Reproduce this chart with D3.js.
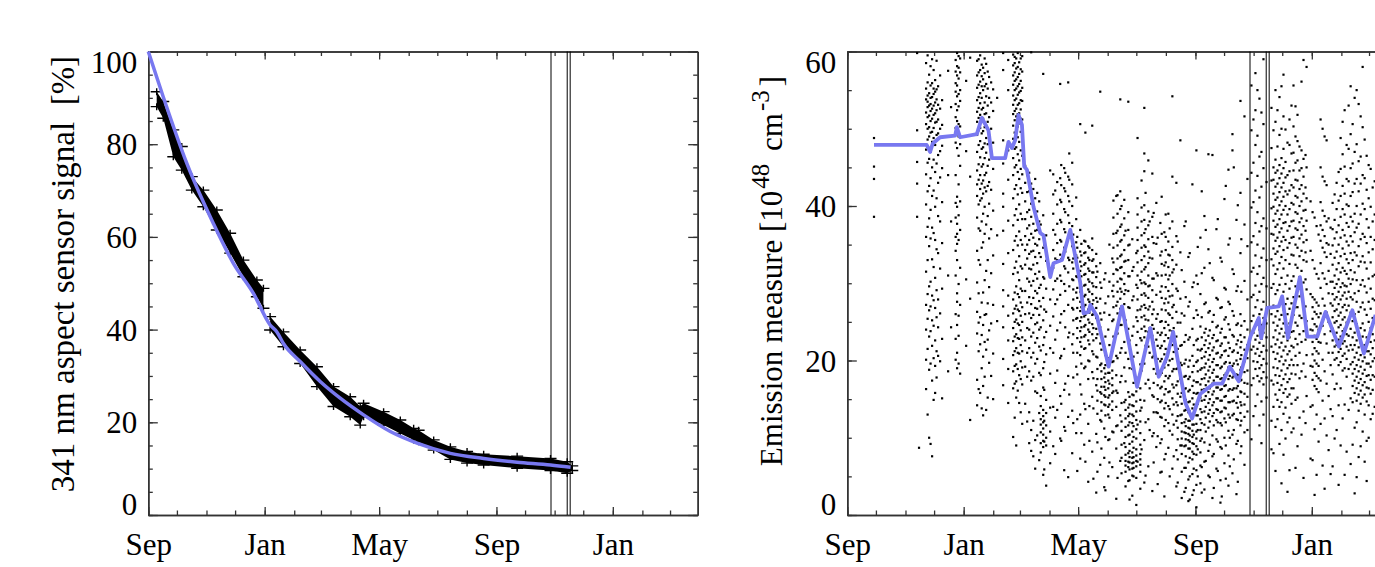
<!DOCTYPE html>
<meta charset="utf-8">
<style>
body { margin: 0; background: #fff; }
svg text { font-family: "Liberation Serif", "Times New Roman", serif; }
.axis .domain { stroke: #333; stroke-width: 1.5; }
.axis line { stroke: #333; stroke-width: 1.3; }
</style>
<svg width="1375" height="567"></svg>
<script src="https://d3js.org/d3.v7.min.js"></script>
<script>

// all "days" arrays count days from the first tick (1 Sep)
var startDate = new Date(2006, 8, 1),
    endDate = new Date(2008, 2, 30);

var xTickDates = ["2006-09-01", "2007-01-01", "2007-05-01", "2007-09-01", "2008-01-01"];
var xTickLabels = ["Sep", "Jan", "May", "Sep", "Jan"];
var leftYTicks = [0, 20, 40, 60, 80, 100];
var rightYTicks = [0, 20, 40, 60];

// vertical event lines (both panels)
var eventDays = [422.2, 439.2, 442.3];

// left panel: fitted degradation curve
var fitDays   = [0, 15.7, 40.3, 68.2, 89.2, 110.2, 127.7, 134.8, 141.7, 159.2, 180.2, 201.2, 225.7, 253.7, 281.7, 316.7, 351.6, 386.7, 421.7, 442.7];
var fitValues = [100, 90.2, 75.9, 62.9, 54.3, 47.8, 41.0, 39.5, 37.0, 33.1, 28.8, 25.2, 21.6, 18.0, 15.5, 13.3, 12.2, 11.4, 10.8, 10.3];

// left panel: measured signal, lower / upper edge of the band of "+" marks (null = data gap)
var sensorDays = [8.8, 15.7, 26.2, 35.1, 45.6, 57.7, 71.8, 85.8, 99.7, 113.8, 120.7, 124, 127.7, 141.7, 159.2, 176.8, 194.2, 211.7, 222.2, 225.7, 246.7, 264.2, 278.2, 283.4, 299.2, 316.7, 334.2, 351.6, 386.7, 421.7, 439.2, 444.5];
var sensorLow  = [88.1, 85.6, 77.3, 74.4, 70.1, 66.5, 61.5, 56.5, 51.4, 47.1, 44.6, null, 39.9, 36.3, 32.7, 27.7, 23.4, 21.2, 19.4, 21.2, 19.4, 17.6, 16.2, 15.8, 14.0, 12.0, 11.2, 10.8, 10.1, 9.6, 9.0, 9.6];
var sensorHigh = [91.3, 89.2, 83.1, 79.5, 73.0, 70.1, 65.8, 60.8, 55.0, 50.7, 48.9, null, 42.8, 39.5, 35.6, 32.0, 27.7, 25.5, 23.4, 24.1, 22.3, 20.5, 18.7, 18.3, 16.2, 14.7, 13.7, 13.1, 12.7, 12.2, 11.5, 10.6];

// right panel: smoothed emission measure
var emLineDays   = [28.0, 83.3, 86.8, 89.6, 97.3, 113.1, 114.8, 118.3, 135.8, 141.1, 148.0, 151.6, 165.5, 169.0, 172.6, 176.0, 179.5, 183.1, 185.5, 188.3, 195.2, 202.3, 205.7, 212.8, 216.2, 225.1, 233.8, 244.3, 247.7, 253.0, 254.8, 261.8, 274.0, 288.0, 303.8, 317.7, 326.5, 335.3, 341.6, 345.8, 354.5, 361.5, 370.2, 384.2, 393.0, 401.0, 410.4, 422.7, 431.4, 433.9, 440.2, 452.4, 455.9, 461.9, 474.5, 482.2, 492.7, 501.4, 515.4, 529.5, 541.6, 553.9];
var emLineValues = [47.9, 47.9, 47.0, 48.1, 48.9, 49.1, 50.2, 48.9, 49.3, 51.4, 49.8, 46.2, 46.2, 48.3, 47.5, 48.5, 51.8, 50.5, 45.1, 44.7, 39.9, 36.5, 36.2, 30.8, 32.6, 33.0, 36.9, 30.0, 26.1, 26.3, 27.2, 25.7, 19.2, 27.0, 16.6, 24.2, 17.9, 20.5, 23.7, 20.5, 14.5, 12.5, 15.7, 17.0, 17.0, 19.2, 17.3, 23.1, 25.5, 22.9, 26.8, 27.0, 28.3, 22.9, 30.8, 23.1, 23.1, 26.3, 21.8, 26.5, 20.9, 25.9];

// right panel: individual measurements, grouped by day
var emDotDays = [28.0, 73.2, 75.2, 82.6, 85.8, 88.9, 92.1, 95.2, 99.4, 105.7, 108.8, 115.1, 118.3, 124.6, 128.8, 136.1, 139.3, 142.4, 145.6, 148.7, 152.9, 157.1, 163.4, 168.7, 173.9, 177.1, 180.2, 183.4, 188.6, 192.8, 197.0, 201.2, 205.4, 208.5, 212.7, 218.0, 223.2, 227.4, 231.6, 235.8, 240.0, 244.2, 248.4, 252.6, 256.8, 261.0, 265.2, 269.4, 273.6, 277.8, 282.0, 286.2, 290.4, 294.6, 298.8, 303.0, 307.2, 311.4, 315.6, 319.8, 324.0, 328.2, 332.4, 336.6, 340.8, 345.0, 349.2, 353.4, 357.6, 361.8, 366.0, 370.2, 374.4, 378.6, 382.8, 387.0, 391.2, 395.4, 399.6, 403.8, 408.0, 412.2, 416.4, 419.5, 423.7, 427.9, 432.1, 436.3, 439.5, 444.7, 448.9, 453.1, 457.3, 461.5, 465.7, 469.9, 474.1, 478.3, 481.5, 485.7, 489.9, 494.1, 498.3, 502.5, 506.7, 510.9, 515.1, 519.3, 523.5, 527.7, 531.9, 536.1, 540.3, 544.5, 548.7, 552.9,
  84.2, 87.3, 90.5, 93.6, 97.3, 113.6, 116.7, 137.7, 140.9, 144.0, 147.2, 150.8, 175.5, 178.7, 181.8, 186.5, 190.7, 195.0, 199.1, 202.8, 206.5, 215.9, 220.1, 224.3, 228.5, 232.7, 236.9, 241.1, 245.4, 249.6, 253.8, 258.0, 262.2, 266.4, 270.6, 274.8, 279.0, 283.3, 287.5, 291.7, 295.9, 300.1, 304.3, 308.5, 312.7, 317.0, 321.2, 325.4, 329.6, 333.8, 338.0, 342.2, 346.4, 350.6, 354.8, 359.0, 363.2, 367.4, 371.6, 375.8, 380.0, 384.2, 388.4, 392.6, 396.8, 401.0, 405.2, 409.4, 413.1, 425.8, 430.0, 434.2, 446.8, 451.0, 455.2, 459.4, 463.6, 467.8, 472.0, 476.2, 480.4, 487.8, 492.0, 496.2, 500.4, 504.6, 508.8, 513.0, 517.2, 521.4, 525.6, 529.8, 534.0, 538.2, 542.4, 546.6, 550.8];
var emDotValues = [
  [48.8, 45.1, 43.5, 38.6],
  [59.8, 49.8, 45.7, 42.9, 38.6],
  [8.7],
  [58.5, 55.2, 53.8, 52.1, 50.6, 47.3, 44.1, 40.2, 36.0, 31.5, 27.2, 24.0, 20.1, 16.3],
  [57.0, 54.6, 53.0, 51.7, 50.2, 49.0, 46.1, 42.6, 38.4, 34.8, 29.6, 26.5, 23.1, 18.8, 10.0],
  [59.0, 55.9, 54.1, 52.6, 51.3, 49.6, 48.3, 45.0, 41.3, 37.2, 33.1, 28.4, 25.2, 21.9, 17.4, 7.6],
  [56.3, 54.8, 53.4, 52.0, 50.8, 47.9, 44.4, 39.9, 35.6, 30.7, 26.8, 22.6, 19.3, 15.8],
  [55.5, 53.1, 51.2, 49.4, 46.6, 43.0, 38.7, 33.9, 27.9, 24.3, 20.6],
  [53.7, 50.5, 47.8, 44.9, 40.5, 35.2, 29.3, 22.8, 15.1],
  [57.5, 44.0, 31.0, 18.6],
  [52.8, 38.0, 24.3],
  [59.8, 58.1, 56.9, 55.6, 54.2, 52.4, 51.0, 49.3, 47.5, 41.2, 39.9, 37.7, 36.4, 35.1, 33.0, 28.7, 27.6, 24.6, 21.0, 19.0],
  [59.1, 57.3, 55.0, 53.6, 50.3, 48.0, 45.2, 40.6, 36.9, 32.0, 27.2, 18.3],
  [56.2, 47.1, 30.5, 21.9],
  [59.2, 43.8, 28.0, 12.3],
  [58.8, 56.9, 55.3, 53.7, 52.2, 50.9, 49.2, 47.0, 44.6, 42.8, 41.3, 38.5, 34.2, 30.1, 26.3, 23.5, 17.5, 14.2],
  [59.5, 57.6, 56.1, 54.6, 53.3, 51.8, 50.1, 48.4, 46.3, 44.0, 42.2, 40.7, 36.8, 32.4, 25.6, 22.1, 15.8],
  [57.9, 56.4, 55.0, 52.7, 51.3, 49.7, 47.6, 45.4, 43.3, 41.6, 39.0, 35.3, 28.8, 24.6, 20.5, 16.7, 12.9],
  [58.4, 55.8, 54.2, 52.0, 50.4, 48.8, 46.9, 44.3, 41.9, 37.6, 31.6, 26.0, 21.4, 13.6],
  [56.7, 54.0, 51.5, 49.1, 46.0, 43.1, 40.3, 35.8, 29.5, 23.9, 19.7],
  [55.1, 52.3, 48.2, 44.8, 39.4, 33.6, 27.2, 20.9, 15.0],
  [54.0, 36.2, 25.1],
  [59.8, 57.6, 48.5, 45.5, 41.6, 39.9, 36.8, 32.5, 29.1, 27.0, 24.3, 20.2, 16.8],
  [58.9, 55.0, 47.2, 43.4, 38.1, 33.9, 28.4, 25.8, 22.6, 18.9, 14.5],
  [59.6, 58.2, 56.9, 55.7, 54.3, 53.1, 51.9, 50.4, 48.7, 46.2, 44.0, 41.0, 37.5, 34.3, 31.2, 27.9, 26.1, 24.2, 22.5, 20.7, 18.6, 16.4, 10.1],
  [59.1, 57.8, 56.4, 55.2, 53.9, 52.6, 51.6, 49.9, 47.6, 45.3, 42.7, 39.6, 36.1, 32.8, 29.6, 27.1, 25.3, 23.4, 21.6, 19.5, 17.3, 15.2, 9.0],
  [58.6, 57.1, 55.8, 54.7, 53.3, 52.0, 50.7, 48.3, 45.9, 43.5, 40.2, 36.7, 33.5, 30.4, 28.2, 26.4, 24.6, 22.8, 20.9, 18.1, 14.5],
  [59.4, 57.4, 55.3, 53.6, 51.2, 49.1, 46.5, 44.1, 41.7, 38.3, 35.0, 31.9, 29.0, 26.9, 25.0, 23.0, 21.2, 19.1, 16.9, 11.8],
  [44.0, 41.8, 39.2, 37.1, 35.0, 33.2, 30.6, 27.5, 24.2, 21.0, 17.9, 12.1],
  [59.9, 42.9, 40.3, 38.6, 36.4, 34.1, 31.8, 29.7, 27.3, 25.5, 23.1, 20.4, 17.4, 11.0, 8.3],
  [43.5, 41.0, 38.9, 36.8, 35.1, 33.4, 31.2, 29.0, 26.8, 24.7, 22.3, 19.6, 16.0, 9.7, 6.0],
  [40.6, 38.0, 35.7, 33.9, 31.5, 29.4, 27.7, 25.9, 24.0, 21.8, 18.4, 13.2, 7.1],
  [57.1, 38.8, 34.6, 30.8, 28.1, 25.2, 22.0, 19.0, 16.5, 13.6, 12.8, 12.0, 11.2, 10.4, 9.6, 8.8, 5.2],
  [36.2, 32.9, 29.3, 26.3, 23.7, 20.8, 14.9, 13.2, 11.6, 10.0, 9.0, 3.8],
  [44.6, 31.9, 27.9, 24.5, 21.6, 18.3, 13.9, 10.8, 6.7],
  [42.0, 36.3, 33.2, 30.3, 27.3, 22.7, 17.1, 12.6, 7.9],
  [55.8, 43.6, 40.8, 38.2, 35.6, 33.7, 31.0, 28.5, 24.9, 20.3, 15.4, 9.9],
  [44.9, 42.3, 39.6, 37.0, 34.6, 32.2, 29.9, 26.4, 21.5, 16.2, 11.4, 5.8],
  [56.0, 43.8, 41.3, 38.8, 36.0, 33.3, 31.4, 27.2, 23.0, 18.0, 12.7, 4.9],
  [45.6, 42.8, 40.0, 37.4, 34.8, 32.7, 30.5, 26.8, 22.1, 13.5, 8.0],
  [41.1, 38.3, 35.3, 33.6, 30.9, 28.8, 25.4, 19.2, 10.6],
  [50.6, 36.9, 34.1, 32.8, 31.6, 30.2, 28.9, 27.6, 26.4, 25.1, 23.8, 22.4, 20.7, 16.9, 13.0, 7.3],
  [35.5, 33.9, 32.4, 31.1, 29.7, 28.3, 27.0, 25.7, 24.4, 23.1, 21.5, 19.0, 14.4, 9.1],
  [34.8, 33.3, 31.9, 30.5, 29.2, 27.9, 26.6, 25.3, 24.0, 22.6, 20.0, 17.6, 11.8, 4.3],
  [50.4, 35.8, 34.3, 32.9, 31.4, 30.0, 28.6, 27.3, 25.9, 24.7, 23.4, 21.2, 18.5, 15.3, 8.2],
  [33.8, 32.2, 30.8, 29.5, 28.1, 26.8, 25.5, 24.1, 22.9, 20.5, 16.8, 10.5, 2.9],
  [54.8, 32.6, 30.1, 28.0, 26.1, 24.3, 22.2, 19.4, 15.9, 12.3, 6.5],
  [30.5, 26.2, 21.7, 19.0, 17.8, 16.6, 15.5, 14.3, 11.2, 7.4, 3.6],
  [28.3, 24.0, 20.3, 19.3, 18.4, 17.4, 16.4, 15.2, 14.0, 13.0, 9.7, 5.0],
  [33.2, 29.0, 25.1, 21.3, 19.8, 18.7, 17.7, 16.8, 15.8, 14.7, 13.6, 10.8, 6.2],
  [41.3, 36.5, 31.8, 27.1, 23.5, 20.6, 18.1, 16.1, 14.0, 11.5, 8.6, 2.1],
  [53.8, 41.9, 39.6, 37.3, 35.4, 33.5, 32.0, 30.6, 29.3, 28.0, 26.7, 24.6, 21.0, 17.2, 12.9, 7.0],
  [40.8, 38.4, 36.2, 34.3, 32.8, 31.3, 29.9, 28.6, 27.3, 25.5, 22.4, 19.1, 14.6, 9.3],
  [53.5, 39.2, 36.9, 34.9, 33.0, 30.9, 29.0, 26.9, 24.1, 20.2, 15.9, 13.9, 12.8, 11.6, 10.3, 8.0, 6.9, 6.2, 4.4],
  [35.7, 31.6, 27.8, 23.2, 18.9, 15.6, 14.2, 13.0, 11.9, 10.8, 9.5, 8.1, 7.4, 6.7, 6.0, 5.1, 2.5],
  [33.9, 29.8, 25.6, 22.0, 17.8, 16.0, 14.7, 13.4, 12.3, 11.1, 9.9, 8.5, 7.7, 7.0, 6.3, 4.8, 1.3],
  [30.4, 26.6, 22.9, 19.5, 16.4, 14.9, 13.5, 12.1, 10.6, 9.1, 7.9, 7.2, 6.5, 5.6, 3.4],
  [52.7, 46.8, 44.5, 40.1, 38.2, 36.5, 34.9, 33.5, 31.8, 30.1, 28.7, 27.2, 25.8, 24.4, 23.0, 19.6, 14.8, 9.7, 4.2],
  [45.9, 39.3, 37.5, 35.7, 34.1, 32.6, 31.0, 29.6, 28.1, 26.6, 25.2, 23.7, 21.8, 17.5, 12.4, 6.3],
  [44.2, 38.6, 36.0, 33.2, 30.6, 29.1, 27.6, 26.0, 24.6, 23.2, 20.4, 15.5, 10.2, 3.1],
  [40.4, 35.1, 31.3, 28.5, 25.4, 22.7, 18.3, 13.3, 8.8],
  [37.8, 33.6, 28.9, 25.0, 23.3, 21.6, 19.9, 18.2, 16.4, 14.6, 12.7, 9.3, 5.5],
  [36.6, 32.3, 27.4, 24.2, 22.5, 20.8, 19.1, 17.3, 15.6, 13.8, 11.5, 7.2, 2.4],
  [39.0, 35.4, 33.7, 32.1, 30.5, 29.0, 27.5, 26.1, 24.6, 22.9, 21.1, 19.4, 17.7, 15.9, 14.1, 11.9, 8.7],
  [54.2, 43.8, 38.0, 34.7, 33.0, 31.4, 29.9, 28.4, 26.9, 25.5, 23.8, 22.0, 20.2, 18.6, 16.9, 15.1, 13.0, 10.4, 6.0],
  [43.0, 36.1, 32.4, 29.3, 26.3, 23.1, 20.9, 18.9, 16.8, 14.6, 12.2, 8.4, 3.7],
  [48.5, 34.0, 28.0, 24.9, 21.9, 19.7, 17.6, 15.3, 12.9, 9.0],
  [37.4, 30.2, 25.8, 22.4, 19.6, 17.9, 16.3, 14.9, 13.5, 12.0, 10.7, 8.9, 6.1, 3.0],
  [33.4, 27.0, 22.7, 19.2, 17.6, 16.0, 14.6, 13.3, 12.2, 11.3, 10.5, 9.7, 8.6, 6.8, 4.6, 1.8],
  [42.8, 29.5, 24.1, 20.6, 18.5, 16.7, 15.1, 13.8, 12.6, 11.7, 10.9, 10.1, 9.3, 8.2, 7.2, 5.3, 2.6],
  [47.2, 31.0, 26.5, 22.6, 19.8, 17.2, 15.7, 14.2, 12.9, 11.8, 10.8, 9.9, 8.9, 7.8, 5.8, 3.9, 1.0],
  [35.9, 28.6, 24.4, 21.3, 18.8, 16.9, 15.2, 13.7, 12.4, 11.0, 9.6, 8.1, 6.4, 4.1],
  [38.7, 32.0, 27.3, 23.6, 22.0, 20.5, 19.1, 17.7, 16.3, 14.9, 13.4, 11.7, 9.4, 6.9, 3.3],
  [46.7, 34.4, 26.2, 23.2, 21.6, 20.1, 18.7, 17.3, 15.9, 14.5, 13.1, 11.3, 8.3, 5.1],
  [46.6, 30.7, 25.0, 22.9, 21.3, 19.8, 18.4, 17.0, 15.6, 14.2, 12.8, 10.3, 7.6, 2.2],
  [37.0, 28.1, 24.3, 22.5, 20.9, 19.4, 17.9, 16.5, 15.1, 13.7, 12.3, 9.8, 6.0],
  [33.3, 26.8, 23.6, 21.9, 20.4, 19.0, 17.6, 16.2, 14.8, 13.3, 11.9, 8.8, 4.5, 1.6],
  [40.9, 29.4, 25.3, 23.0, 21.2, 19.6, 18.1, 16.7, 15.3, 13.9, 12.5, 10.0, 6.7],
  [44.7, 35.0, 27.6, 24.7, 22.3, 20.6, 19.1, 17.6, 16.1, 14.6, 13.0, 10.9, 7.7, 3.8],
  [49.3, 47.2, 31.8, 26.4, 23.3, 21.1, 19.3, 17.8, 16.2, 14.7, 12.9, 10.4, 5.4],
  [38.2, 29.0, 24.6, 22.1, 20.0, 18.2, 16.4, 14.5, 12.4, 9.2, 2.7],
  [53.6, 41.7, 33.9, 26.0, 23.3, 21.7, 20.2, 18.8, 17.4, 16.0, 14.6, 13.2, 11.6, 8.0],
  [51.6, 37.6, 30.3, 25.1, 23.0, 21.4, 19.9, 18.5, 17.1, 15.7, 14.3, 12.7, 10.7, 6.5],
  [43.5, 34.8, 27.9, 24.0, 22.0, 20.3, 18.7, 17.0, 15.3, 13.4, 11.0],
  [55.6, 49.8, 44.3, 39.8, 35.3, 31.5, 28.2, 25.1, 21.4, 16.8, 9.8],
  [57.2, 52.4, 47.9, 42.0, 37.8, 33.6, 29.7, 26.9, 24.5, 22.7, 20.9, 18.9, 14.1],
  [53.9, 46.4, 41.1, 36.7, 32.2, 28.9, 26.0, 24.0, 22.3, 20.6, 19.0, 17.3, 11.6],
  [59.0, 50.6, 44.9, 38.4, 34.5, 30.7, 27.6, 25.5, 23.6, 21.9, 20.2, 18.5, 16.9, 13.0],
  [43.1, 37.1, 33.0, 29.6, 26.6, 24.8, 23.0, 21.3, 19.6, 17.8, 15.2],
  [52.7, 47.5, 43.3, 39.7, 36.4, 33.1, 29.4, 26.0, 21.8, 17.4, 12.2, 8.5],
  [55.0, 50.9, 46.0, 44.3, 42.5, 40.8, 39.0, 37.3, 35.5, 33.8, 31.2, 28.6, 25.7, 23.9, 22.1, 20.2, 18.1, 15.6, 11.4, 5.7],
  [54.1, 49.2, 45.3, 43.6, 41.8, 40.1, 38.3, 36.6, 34.8, 32.6, 29.8, 27.2, 25.3, 23.5, 21.7, 19.9, 18.0, 16.2, 14.0, 9.2],
  [57.0, 51.6, 47.4, 44.9, 43.0, 41.2, 39.5, 37.8, 36.0, 34.3, 31.9, 28.9, 26.6, 24.8, 23.1, 21.3, 19.5, 17.6, 15.8, 13.1, 7.8],
  [48.2, 44.0, 41.5, 38.9, 36.8, 34.6, 31.0, 28.0, 26.0, 24.3, 22.6, 20.8, 19.0, 17.2, 15.3, 12.0, 3.0],
  [53.0, 46.8, 42.7, 40.4, 38.0, 35.9, 33.7, 30.3, 27.4, 25.5, 23.7, 21.9, 20.1, 18.3, 16.4, 14.4, 10.7],
  [52.9, 49.0, 45.6, 43.4, 41.3, 39.2, 37.1, 35.0, 32.4, 29.6, 26.9, 24.9, 22.8, 20.6, 18.2, 14.9, 6.1],
  [47.7, 44.6, 42.2, 40.0, 37.9, 35.8, 33.5, 30.8, 28.3, 25.8, 23.4, 21.0, 17.7, 12.6],
  [58.9, 46.1, 43.8, 41.6, 39.4, 37.4, 35.3, 33.0, 30.1, 27.0, 23.8, 19.6, 13.4, 4.8],
  [58.0, 45.0, 41.0, 38.1, 35.6, 32.8, 29.2, 25.1, 20.7, 15.4],
  [40.6, 34.2, 28.6, 24.0, 19.3, 14.0, 7.3],
  [38.5, 31.9, 27.9, 26.3, 24.7, 23.2, 21.6, 20.0, 18.4, 16.7, 11.1, 2.6],
  [36.3, 30.6, 27.1, 25.6, 24.0, 22.4, 20.9, 19.3, 17.7, 15.9, 9.5],
  [50.0, 43.8, 39.4, 36.9, 34.6, 31.3, 28.0, 24.5, 20.1, 14.8, 6.4],
  [48.5, 42.7, 38.0, 35.2, 33.4, 29.9, 26.2, 22.2, 17.0, 10.3],
  [37.2, 33.8, 30.2, 27.4, 23.8, 19.4, 13.7, 5.3],
  [41.5, 38.2, 35.8, 33.3, 31.0, 29.4, 27.9, 26.4, 24.9, 23.3, 21.8, 20.1, 16.3, 9.9],
  [44.4, 40.7, 37.5, 35.0, 32.6, 30.5, 28.9, 27.3, 25.8, 24.3, 22.7, 21.1, 19.4, 14.2, 3.9],
  [50.9, 46.7, 42.6, 39.6, 36.9, 34.5, 32.0, 30.0, 28.4, 26.9, 25.3, 23.8, 22.2, 20.6, 18.7, 12.5],
  [47.9, 43.5, 40.2, 37.8, 35.4, 33.1, 31.2, 29.6, 28.0, 26.5, 24.9, 23.4, 21.8, 20.2, 17.9, 8.2],
  [55.5, 49.3, 44.9, 41.3, 38.6, 36.1, 33.9, 31.7, 29.9, 28.2, 26.2, 24.1, 22.0, 19.5, 15.1, 6.6],
  [54.0, 47.0, 42.9, 39.0, 36.6, 34.0, 31.4, 28.7, 26.0, 23.6, 22.0, 20.4, 18.9, 17.4, 15.8, 11.3, 2.8],
  [53.2, 45.8, 41.9, 37.7, 34.8, 32.2, 29.0, 26.3, 23.3, 21.7, 20.1, 18.6, 17.1, 15.6, 13.5, 7.5],
  [58.0, 50.2, 44.0, 40.3, 36.4, 33.5, 30.4, 27.5, 24.8, 23.1, 21.5, 19.9, 18.3, 16.8, 15.2, 10.8],
  [46.5, 42.1, 38.3, 35.2, 31.9, 28.8, 25.9, 23.0, 21.2, 19.6, 18.0, 16.5, 14.7, 9.6, 4.4],
  [44.8, 39.9, 36.0, 32.7, 29.3, 26.7, 24.2, 22.4, 20.8, 19.2, 17.5, 15.7, 12.4],
  [43.2, 38.9, 35.6, 31.1, 27.8, 25.2, 22.6, 20.3, 17.9, 14.0],
  [59.5, 56.0, 54.3, 53.5, 52.8, 51.5, 50.0, 48.6, 45.6, 41.9, 37.3, 33.0, 28.6, 25.4, 21.5, 13.0],
  [58.1, 55.6, 54.0, 53.2, 52.3, 51.0, 49.5, 47.0, 43.6, 39.5, 35.8, 30.2, 27.0, 23.8, 19.6, 9.2],
  [57.6, 55.2, 54.5, 53.0, 51.8, 50.1, 48.8, 46.0, 42.0, 36.5, 32.1, 27.8, 24.5, 20.3, 14.9],
  [58.8, 55.1, 53.8, 52.4, 50.9, 49.2, 45.5, 41.0, 34.4, 29.1, 25.6, 21.2, 17.8],
  [56.9, 52.6, 50.0, 47.1, 43.7, 38.0, 31.9, 26.1, 19.9],
  [58.9, 57.4, 55.9, 54.8, 53.2, 51.5, 50.1, 48.2, 44.0, 40.4, 38.5, 36.0, 34.2, 31.0, 26.0, 22.8, 20.1],
  [59.4, 57.9, 56.5, 54.5, 52.9, 50.6, 49.0, 46.5, 42.8, 38.8, 35.6, 29.9, 25.8, 23.2, 19.6],
  [59.0, 57.3, 55.7, 54.1, 52.7, 51.4, 49.8, 47.9, 45.4, 43.4, 40.2, 37.1, 33.0, 28.7, 24.9, 21.2, 16.3],
  [58.3, 56.8, 55.5, 54.0, 52.5, 51.0, 49.4, 47.4, 45.1, 42.9, 41.0, 38.0, 34.6, 27.5, 23.3, 19.0, 13.8],
  [59.1, 57.2, 55.5, 53.4, 51.9, 50.2, 48.1, 46.2, 44.0, 42.4, 39.9, 36.4, 30.4, 25.9, 22.4, 17.9],
  [57.4, 55.2, 53.0, 50.9, 48.0, 45.2, 42.6, 38.7, 33.0, 27.4, 22.7, 15.2],
  [56.0, 53.4, 50.0, 47.0, 42.1, 37.0, 31.3, 24.8, 18.0],
  [59.3, 58.5, 57.3, 56.2, 55.0, 53.7, 52.3, 51.1, 49.5, 47.4, 45.0, 42.2, 38.8, 35.5, 32.0, 28.8, 26.7, 25.0, 23.1, 21.2, 19.3, 17.0, 12.6],
  [59.8, 58.0, 56.7, 55.5, 54.4, 53.1, 51.9, 50.3, 48.9, 46.7, 44.4, 41.5, 38.2, 34.9, 31.4, 28.6, 26.6, 24.8, 22.9, 21.0, 18.9, 16.1],
  [59.1, 57.7, 56.2, 54.9, 53.7, 52.5, 51.3, 49.6, 47.2, 44.8, 42.3, 39.0, 35.6, 32.2, 29.3, 27.5, 25.8, 23.9, 22.0, 19.9, 17.6, 13.3],
  [45.2, 43.0, 40.6, 38.3, 36.1, 34.3, 32.4, 29.0, 26.0, 22.6, 19.2, 14.4],
  [44.3, 41.9, 39.5, 37.5, 35.6, 33.8, 31.9, 30.2, 28.2, 26.1, 24.0, 21.6, 18.6, 13.3, 9.3],
  [42.2, 39.8, 37.7, 35.9, 34.2, 32.4, 30.3, 28.1, 25.9, 23.6, 21.0, 17.9, 12.2, 7.6],
  [41.7, 39.3, 36.9, 34.9, 32.6, 30.6, 28.7, 26.7, 24.9, 22.9, 20.2, 15.8, 10.3],
  [37.6, 33.4, 29.8, 27.0, 24.3, 21.3, 18.1, 15.4, 14.1, 12.4, 11.7, 10.7, 9.3, 8.1],
  [35.0, 30.6, 26.6, 23.0, 19.8, 16.2, 12.2, 9.5, 5.9],
  [44.1, 41.5, 39.0, 36.9, 34.3, 32.0, 29.2, 25.7, 21.0, 14.0, 8.9],
  [43.1, 40.2, 37.7, 35.2, 33.0, 30.6, 27.9, 23.9, 18.7, 13.6],
  [45.3, 42.7, 40.5, 37.9, 35.4, 33.1, 30.3, 26.0, 20.6, 14.4, 9.6],
  [44.3, 41.9, 39.2, 36.6, 34.1, 31.9, 29.0, 24.3, 17.0, 10.9],
  [46.8, 43.4, 40.6, 37.8, 35.9, 33.0, 29.6, 23.6, 15.6],
  [36.3, 34.7, 33.2, 31.9, 30.4, 29.2, 27.9, 26.6, 25.2, 23.4, 21.0, 17.8, 11.9],
  [36.0, 34.6, 33.3, 32.0, 30.8, 29.4, 28.1, 26.8, 25.5, 24.2, 22.9, 21.0, 18.2, 12.4, 5.7],
  [35.1, 33.6, 32.2, 30.9, 29.5, 28.2, 26.9, 25.6, 24.3, 23.0, 21.8, 19.6, 15.6, 10.6],
  [49.5, 35.4, 34.0, 32.6, 31.2, 29.8, 28.5, 27.2, 25.9, 24.6, 23.3, 21.6, 19.2, 13.7, 6.9],
  [34.6, 33.0, 31.6, 30.2, 28.9, 27.6, 26.2, 24.9, 23.7, 22.1, 19.9, 14.1, 9.6],
  [33.1, 31.4, 29.6, 27.8, 26.0, 24.2, 22.6, 20.8, 17.7, 13.8, 4.7],
  [31.5, 27.6, 23.4, 20.4, 18.9, 17.6, 16.1, 14.8, 13.1, 9.4, 5.6],
  [29.4, 25.3, 21.4, 19.6, 18.6, 17.6, 16.6, 15.7, 14.6, 13.5, 12.1, 8.6],
  [31.3, 27.4, 23.1, 20.7, 19.4, 18.3, 17.2, 16.2, 15.3, 14.2, 12.9, 10.1, 3.2],
  [35.0, 30.2, 25.9, 22.0, 19.9, 18.4, 17.0, 15.5, 14.3, 12.6, 9.8, 6.8],
  [40.7, 38.5, 36.4, 34.6, 32.7, 31.2, 29.7, 28.3, 26.9, 25.3, 23.1, 19.9, 16.0, 10.7],
  [41.4, 39.0, 36.8, 34.9, 33.2, 31.7, 30.2, 28.9, 27.6, 26.1, 23.5, 20.3, 15.8, 11.6, 4.8],
  [40.0, 37.6, 35.6, 33.7, 32.1, 30.5, 28.9, 27.0, 24.6, 21.6, 18.0, 14.5, 12.1, 10.9, 9.1, 7.4, 5.4],
  [36.8, 32.9, 29.1, 25.2, 21.0, 17.3, 14.9, 13.6, 12.5, 11.4, 10.1, 8.8, 7.8, 7.0, 6.4, 5.6, 3.7],
  [35.0, 30.9, 26.8, 22.6, 19.0, 15.3, 14.3, 13.1, 12.0, 10.4, 9.2, 8.3, 7.5, 6.8, 5.9, 4.5, 2.0],
  [32.1, 28.3, 24.4, 20.5, 17.1, 15.5, 14.1, 12.8, 11.5, 10.1, 8.7, 7.5, 6.8, 6.1, 5.0],
  [48.8, 41.0, 38.9, 37.2, 35.6, 34.2, 32.7, 31.0, 29.4, 27.9, 26.5, 25.1, 23.7, 21.0, 16.6, 11.7, 6.9],
  [43.3, 39.8, 38.0, 36.2, 34.6, 33.0, 31.5, 30.0, 28.5, 27.0, 25.6, 24.1, 22.6, 18.7, 13.9, 8.5],
  [41.7, 37.0, 34.7, 32.1, 29.9, 28.4, 26.8, 25.3, 23.8, 21.9, 17.0, 12.0, 5.1],
  [38.0, 33.3, 29.7, 27.0, 24.2, 21.0, 16.4, 11.0],
  [39.1, 35.2, 30.6, 26.6, 24.1, 22.3, 20.6, 18.9, 17.1, 15.3, 13.3, 10.6, 6.8],
  [35.9, 31.0, 26.0, 23.6, 21.9, 20.2, 18.5, 16.8, 15.0, 13.2, 10.2, 4.0],
  [41.2, 36.4, 34.1, 32.5, 31.0, 29.6, 28.1, 26.6, 25.1, 23.6, 21.9, 20.2, 18.4, 16.6, 14.8, 12.6, 9.8, 5.6],
  [38.9, 36.0, 34.3, 32.7, 31.1, 29.5, 28.0, 26.5, 25.0, 23.3, 21.5, 19.8, 18.0, 16.3, 14.5, 12.3, 7.9],
  [37.1, 33.6, 31.0, 28.3, 25.9, 23.9, 22.0, 20.0, 18.0, 16.0, 13.7, 10.9, 5.0],
  [31.8, 27.2, 24.2, 21.1, 18.9, 16.5, 14.3, 11.7, 7.6],
  [35.4, 29.0, 24.9, 21.5, 19.0, 17.3, 15.7, 14.2, 12.8, 11.3, 9.8, 7.2, 4.2],
  [31.7, 26.1, 22.0, 19.4, 17.5, 15.8, 14.4, 13.0, 11.9, 10.8, 9.9, 9.0, 7.9, 5.6, 2.2],
  [38.0, 28.2, 23.3, 20.1, 18.0, 16.4, 14.9, 13.6, 12.4, 11.5, 10.6, 9.8, 9.0, 7.6, 6.1, 3.5],
  [33.9, 27.6, 23.0, 20.0, 17.9, 16.2, 14.7, 13.4, 12.2, 11.2, 10.3, 9.5, 8.6, 7.4, 5.0, 2.0],
  [30.1, 25.5, 22.0, 19.3, 17.4, 15.8, 14.3, 13.0, 11.7, 10.4, 9.2, 7.9, 6.0, 3.2],
  [34.7, 29.9, 25.9, 22.8, 21.4, 20.0, 18.6, 17.2, 15.8, 14.4, 12.9, 11.0, 8.5, 5.0],
  [41.9, 31.3, 25.6, 23.0, 21.5, 20.3, 19.0, 17.6, 16.2, 14.8, 13.3, 11.9, 9.9, 6.2, 2.9],
  [36.9, 27.5, 24.1, 22.6, 21.1, 19.6, 18.2, 16.8, 15.4, 14.0, 12.6, 10.8, 7.0],
  [32.6, 26.4, 23.9, 22.2, 20.7, 19.2, 17.8, 16.4, 15.0, 13.6, 12.1, 9.1, 4.9],
  [30.4, 25.9, 23.3, 21.7, 20.2, 18.8, 17.4, 16.0, 14.6, 13.2, 11.6, 7.9, 3.5],
  [38.3, 27.9, 24.5, 22.6, 21.0, 19.4, 17.9, 16.5, 15.1, 13.6, 12.0, 9.5, 5.7],
  [32.8, 26.9, 24.1, 22.2, 20.7, 19.2, 17.7, 16.3, 14.8, 13.4, 11.6, 8.6, 2.4],
  [42.6, 29.2, 25.6, 23.0, 21.3, 19.8, 18.3, 16.8, 15.4, 13.8, 12.0, 9.0, 4.7],
  [35.8, 27.3, 24.0, 21.6, 19.7, 18.0, 16.3, 14.6, 12.6, 10.0, 6.3],
  [45.0, 31.2, 25.8, 23.1, 21.3, 19.6, 18.0, 16.4, 14.8, 13.1, 11.0, 7.2],
  [40.1, 29.6, 24.8, 22.6, 21.0, 19.5, 18.1, 16.7, 15.3, 13.9, 12.3, 9.6, 4.3],
  [35.7, 28.9, 24.5, 22.4, 20.7, 19.1, 17.5, 15.9, 14.2, 12.2, 8.9],
  [51.2, 45.6, 40.5, 36.1, 32.0, 28.5, 25.8, 23.6, 21.8, 19.9, 17.7, 12.8],
  [55.0, 49.1, 43.9, 39.2, 35.0, 31.2, 27.8, 25.2, 23.2, 21.5, 19.8, 18.0, 15.6],
  [52.1, 47.0, 42.5, 37.4, 33.3, 29.9, 26.6, 24.6, 22.8, 21.1, 19.4, 17.7, 14.7, 9.3],
  [49.8, 45.0, 43.4, 41.6, 39.9, 38.1, 36.3, 34.5, 32.3, 29.9, 27.1, 24.9, 23.0, 21.1, 19.1, 16.9, 14.0, 8.0],
  [52.4, 47.7, 44.6, 42.9, 41.1, 39.4, 37.6, 35.9, 34.1, 31.8, 29.1, 26.4, 24.5, 22.7, 20.9, 19.0, 17.1, 14.9, 12.4],
  [55.5, 50.0, 46.2, 44.2, 42.4, 40.6, 38.9, 37.1, 35.4, 33.4, 30.7, 28.0, 25.9, 24.1, 22.3, 20.5, 18.7, 16.8, 14.6, 11.0, 4.1],
  [49.9, 45.7, 43.7, 41.9, 40.0, 37.9, 35.6, 33.0, 29.9, 27.3, 25.3, 23.6, 21.8, 20.0, 18.2, 16.3, 13.9, 9.9],
  [51.2, 47.9, 44.5, 42.0, 39.6, 37.4, 35.2, 32.5, 29.3, 26.7, 24.8, 23.0, 21.2, 19.4, 17.6, 15.6, 12.6, 5.8],
  [55.6, 50.3, 46.9, 44.6, 42.4, 40.2, 38.1, 36.0, 33.6, 30.9, 28.2, 25.9, 23.8, 21.7, 19.4, 16.4, 11.2],
  [51.8, 48.4, 45.9, 43.3, 41.1, 39.0, 36.9, 34.6, 32.0, 29.3, 26.9, 24.5, 22.1, 19.4, 15.2, 8.9],
  [56.1, 47.2, 44.9, 42.7, 40.6, 38.4, 36.3, 34.2, 31.6, 28.6, 25.5, 22.4, 18.6, 10.4],
  [46.6, 42.4, 39.5, 36.8, 34.0, 30.5, 27.0, 22.7, 17.9, 11.9],
  [39.2, 33.0, 28.2, 26.9, 25.4, 23.9, 22.4, 20.8, 19.2, 17.5, 14.2, 7.1],
  [37.4, 31.2, 27.5, 26.0, 24.4, 22.8, 21.2, 19.6, 18.0, 16.3, 13.0, 5.2],
  [51.2, 45.0, 40.5, 37.5, 35.5, 32.6, 29.4, 26.1, 22.3, 17.4, 11.8],
  [49.0, 43.2, 38.7, 36.1, 34.0, 30.6, 27.1, 23.4, 18.6, 12.5, 3.4],
  [38.4, 35.0, 31.6, 28.7, 25.0, 21.0, 15.4, 8.4],
  [40.4, 37.0, 34.9, 32.4, 30.2, 28.6, 27.1, 25.6, 24.1, 22.6, 21.0, 18.2, 12.8, 6.3],
  [43.0, 39.6, 36.6, 34.1, 31.8, 29.9, 28.2, 26.6, 25.1, 23.6, 22.0, 20.3, 17.0, 11.0],
  [48.8, 44.8, 41.3, 38.6, 35.9, 33.5, 31.4, 29.5, 27.9, 26.2, 24.6, 23.1, 21.5, 19.8, 16.4, 9.0],
  [52.4, 45.1, 41.6, 38.9, 36.2, 33.8, 31.6, 29.7, 28.8, 27.2, 25.6, 24.1, 22.5, 20.9, 19.0, 14.3, 5.2],
  [53.0, 47.4, 43.2, 40.0, 37.3, 34.9, 32.6, 30.6, 28.9, 27.1, 25.2, 23.2, 21.3, 18.9, 13.6],
  [50.6, 45.5, 41.8, 38.0, 35.4, 33.0, 30.5, 27.9, 25.1, 23.0, 21.4, 19.8, 18.3, 16.7, 14.6, 9.1],
  [55.0, 48.0, 43.5, 40.0, 37.2, 33.6, 30.4, 27.6, 24.7, 22.6, 21.0, 19.4, 17.9, 16.4, 14.8, 12.0, 4.9],
  [51.6, 46.4, 42.9, 38.9, 35.7, 32.8, 29.8, 26.9, 24.2, 22.3, 20.7, 19.2, 17.6, 16.1, 14.4, 8.9],
  [48.6, 43.6, 39.6, 36.0, 32.7, 29.6, 26.6, 23.9, 22.0, 20.4, 18.8, 17.2, 15.6, 13.0, 6.9],
  [45.3, 41.0, 37.2, 34.0, 30.6, 27.6, 25.0, 22.9, 21.2, 19.6, 18.1, 16.4, 14.2, 10.0],
  [42.4, 38.0, 34.4, 30.9, 28.0, 25.5, 23.4, 21.6, 19.9, 18.1, 16.2, 13.1]
];

var svg = d3.select("svg"),
    plotTop = 51.5,
    plotBottom = 515,
    panelWidth = 549.4,
    blue = "#7878f0",
    fontSize = 31;

function dayToDate(d) { return new Date(startDate.getTime() + d * 864e5); }

// draws the framed box with inward ticks on all four sides, returns the scales
function drawFrame(left, yMax, yTicks) {
  var x = d3.scaleTime().domain([startDate, endDate]).range([left, left + panelWidth]),
      y = d3.scaleLinear().domain([0, yMax]).range([plotBottom, plotTop]);

  var months = d3.timeMonth.range(startDate, endDate),
      majors = xTickDates.map(function(s) { return d3.timeParse("%Y-%m-%d")(s); }),
      yMinor = d3.range(0, yMax + 0.1, 5);

  function styleAxis(sel) {
    sel.attr("class", "axis").attr("font-size", fontSize)
       .attr("font-family", '"Liberation Serif", "Times New Roman", serif');
    sel.selectAll("text").attr("fill", "#000");
  }

  svg.append("g").attr("transform", "translate(0," + plotBottom + ")")
    .call(d3.axisBottom(x).tickValues(months).tickSize(-4.5).tickSizeOuter(0).tickFormat(""))
    .call(styleAxis);
  svg.append("g").attr("transform", "translate(0," + plotBottom + ")")
    .call(d3.axisBottom(x).tickValues(majors).tickSize(-8).tickSizeOuter(0).tickPadding(18)
      .tickFormat(function(d, i) { return xTickLabels[i]; }))
    .call(styleAxis);
  svg.append("g").attr("transform", "translate(0," + plotTop + ")")
    .call(d3.axisTop(x).tickValues(months).tickSize(-4.5).tickSizeOuter(0).tickFormat(""))
    .call(styleAxis);
  svg.append("g").attr("transform", "translate(0," + plotTop + ")")
    .call(d3.axisTop(x).tickValues(majors).tickSize(-8).tickSizeOuter(0).tickFormat(""))
    .call(styleAxis);

  svg.append("g").attr("transform", "translate(" + left + ",0)")
    .call(d3.axisLeft(y).tickValues(yMinor).tickSize(-4.5).tickSizeOuter(0).tickFormat(""))
    .call(styleAxis);
  var yAxis = svg.append("g").attr("transform", "translate(" + left + ",0)")
    .call(d3.axisLeft(y).tickValues(yTicks).tickSize(-9.5).tickSizeOuter(0).tickPadding(11))
    .call(styleAxis);
  // IDL style: end labels are kept inside the axis range
  yAxis.selectAll(".tick text").attr("dy", function(d) {
    return d === yMax ? "0.68em" : (d === 0 ? "-0.02em" : "0.34em");
  });
  svg.append("g").attr("transform", "translate(" + (left + panelWidth) + ",0)")
    .call(d3.axisRight(y).tickValues(yMinor).tickSize(-4.5).tickSizeOuter(0).tickFormat(""))
    .call(styleAxis);
  svg.append("g").attr("transform", "translate(" + (left + panelWidth) + ",0)")
    .call(d3.axisRight(y).tickValues(yTicks).tickSize(-9.5).tickSizeOuter(0).tickFormat(""))
    .call(styleAxis);

  // event markers
  svg.append("g").selectAll("line")
    .data(eventDays)
    .enter().append("line")
      .attr("x1", function(d) { return x(dayToDate(d)); })
      .attr("x2", function(d) { return x(dayToDate(d)); })
      .attr("y1", plotTop)
      .attr("y2", plotBottom)
      .attr("stroke", "#000")
      .attr("stroke-width", 1);

  return { x: x, y: y };
}

/* ---------- left panel ---------- */
var L = drawFrame(148.3, 100, leftYTicks);

var sensor = sensorDays.map(function(d, i) {
  return { date: dayToDate(d), lo: sensorLow[i], hi: sensorHigh[i] };
});

svg.append("path")
  .datum(sensor)
  .attr("fill", "#000")
  .attr("d", d3.area()
    .defined(function(d) { return d.lo !== null; })
    .x(function(d) { return L.x(d.date); })
    .y0(function(d) { return L.y(d.lo); })
    .y1(function(d) { return L.y(d.hi); }));

var crossPts = [];
sensor.forEach(function(d) {
  if (d.lo === null) return;
  crossPts.push({ date: d.date, v: d.lo });
  crossPts.push({ date: d.date, v: d.hi });
});
svg.append("g").selectAll("path")
  .data(crossPts)
  .enter().append("path")
    .attr("transform", function(d) { return "translate(" + L.x(d.date) + "," + L.y(d.v) + ")"; })
    .attr("d", "M-6,0H6M0,-3.5V3.5")
    .attr("stroke", "#000")
    .attr("stroke-width", 1.4);

svg.append("path")
  .datum(fitDays.map(function(d, i) { return { date: dayToDate(d), v: fitValues[i] }; }))
  .attr("fill", "none")
  .attr("stroke", blue)
  .attr("stroke-width", 3.5)
  .attr("d", d3.line()
    .curve(d3.curveMonotoneX)
    .x(function(d) { return L.x(d.date); })
    .y(function(d) { return L.y(d.v); }));

svg.append("text")
  .attr("transform", "translate(74,274) rotate(-90)")
  .attr("text-anchor", "middle")
  .attr("font-size", 33)
  .attr("fill", "#000")
  .style("white-space", "pre")
  .text("341 nm aspect sensor signal  [%]");

/* ---------- right panel ---------- */
var R = drawFrame(847.3, 60, rightYTicks);

var dots = [];
emDotDays.forEach(function(d, i) {
  emDotValues[i].forEach(function(v) { dots.push({ date: dayToDate(d), v: v }); });
});

svg.append("g").selectAll("rect")
  .data(dots)
  .enter().append("rect")
    .attr("x", function(d) { return R.x(d.date) - 1.1; })
    .attr("y", function(d) { return R.y(d.v) - 1.1; })
    .attr("width", 2.2)
    .attr("height", 2.2)
    .attr("fill", "#000");

svg.append("path")
  .datum(emLineDays.map(function(d, i) { return { date: dayToDate(d), v: emLineValues[i] }; }))
  .attr("fill", "none")
  .attr("stroke", blue)
  .attr("stroke-width", 3.8)
  .attr("stroke-linejoin", "round")
  .attr("d", d3.line()
    .x(function(d) { return R.x(d.date); })
    .y(function(d) { return R.y(d.v); }));

var rTitle = svg.append("text")
  .attr("transform", "translate(782,271) rotate(-90)")
  .attr("text-anchor", "middle")
  .attr("font-size", fontSize)
  .attr("fill", "#000")
  .style("white-space", "pre");
rTitle.append("tspan").text("Emission measure [10");
rTitle.append("tspan").attr("dx", 2).attr("dy", -13).attr("font-size", 25).text("48");
rTitle.append("tspan").attr("dx", 5).attr("dy", 13).text(" cm");
rTitle.append("tspan").attr("dx", 2).attr("dy", -13).attr("font-size", 25).text("-3");
rTitle.append("tspan").attr("dx", 4).attr("dy", 13).text("]");

</script>
